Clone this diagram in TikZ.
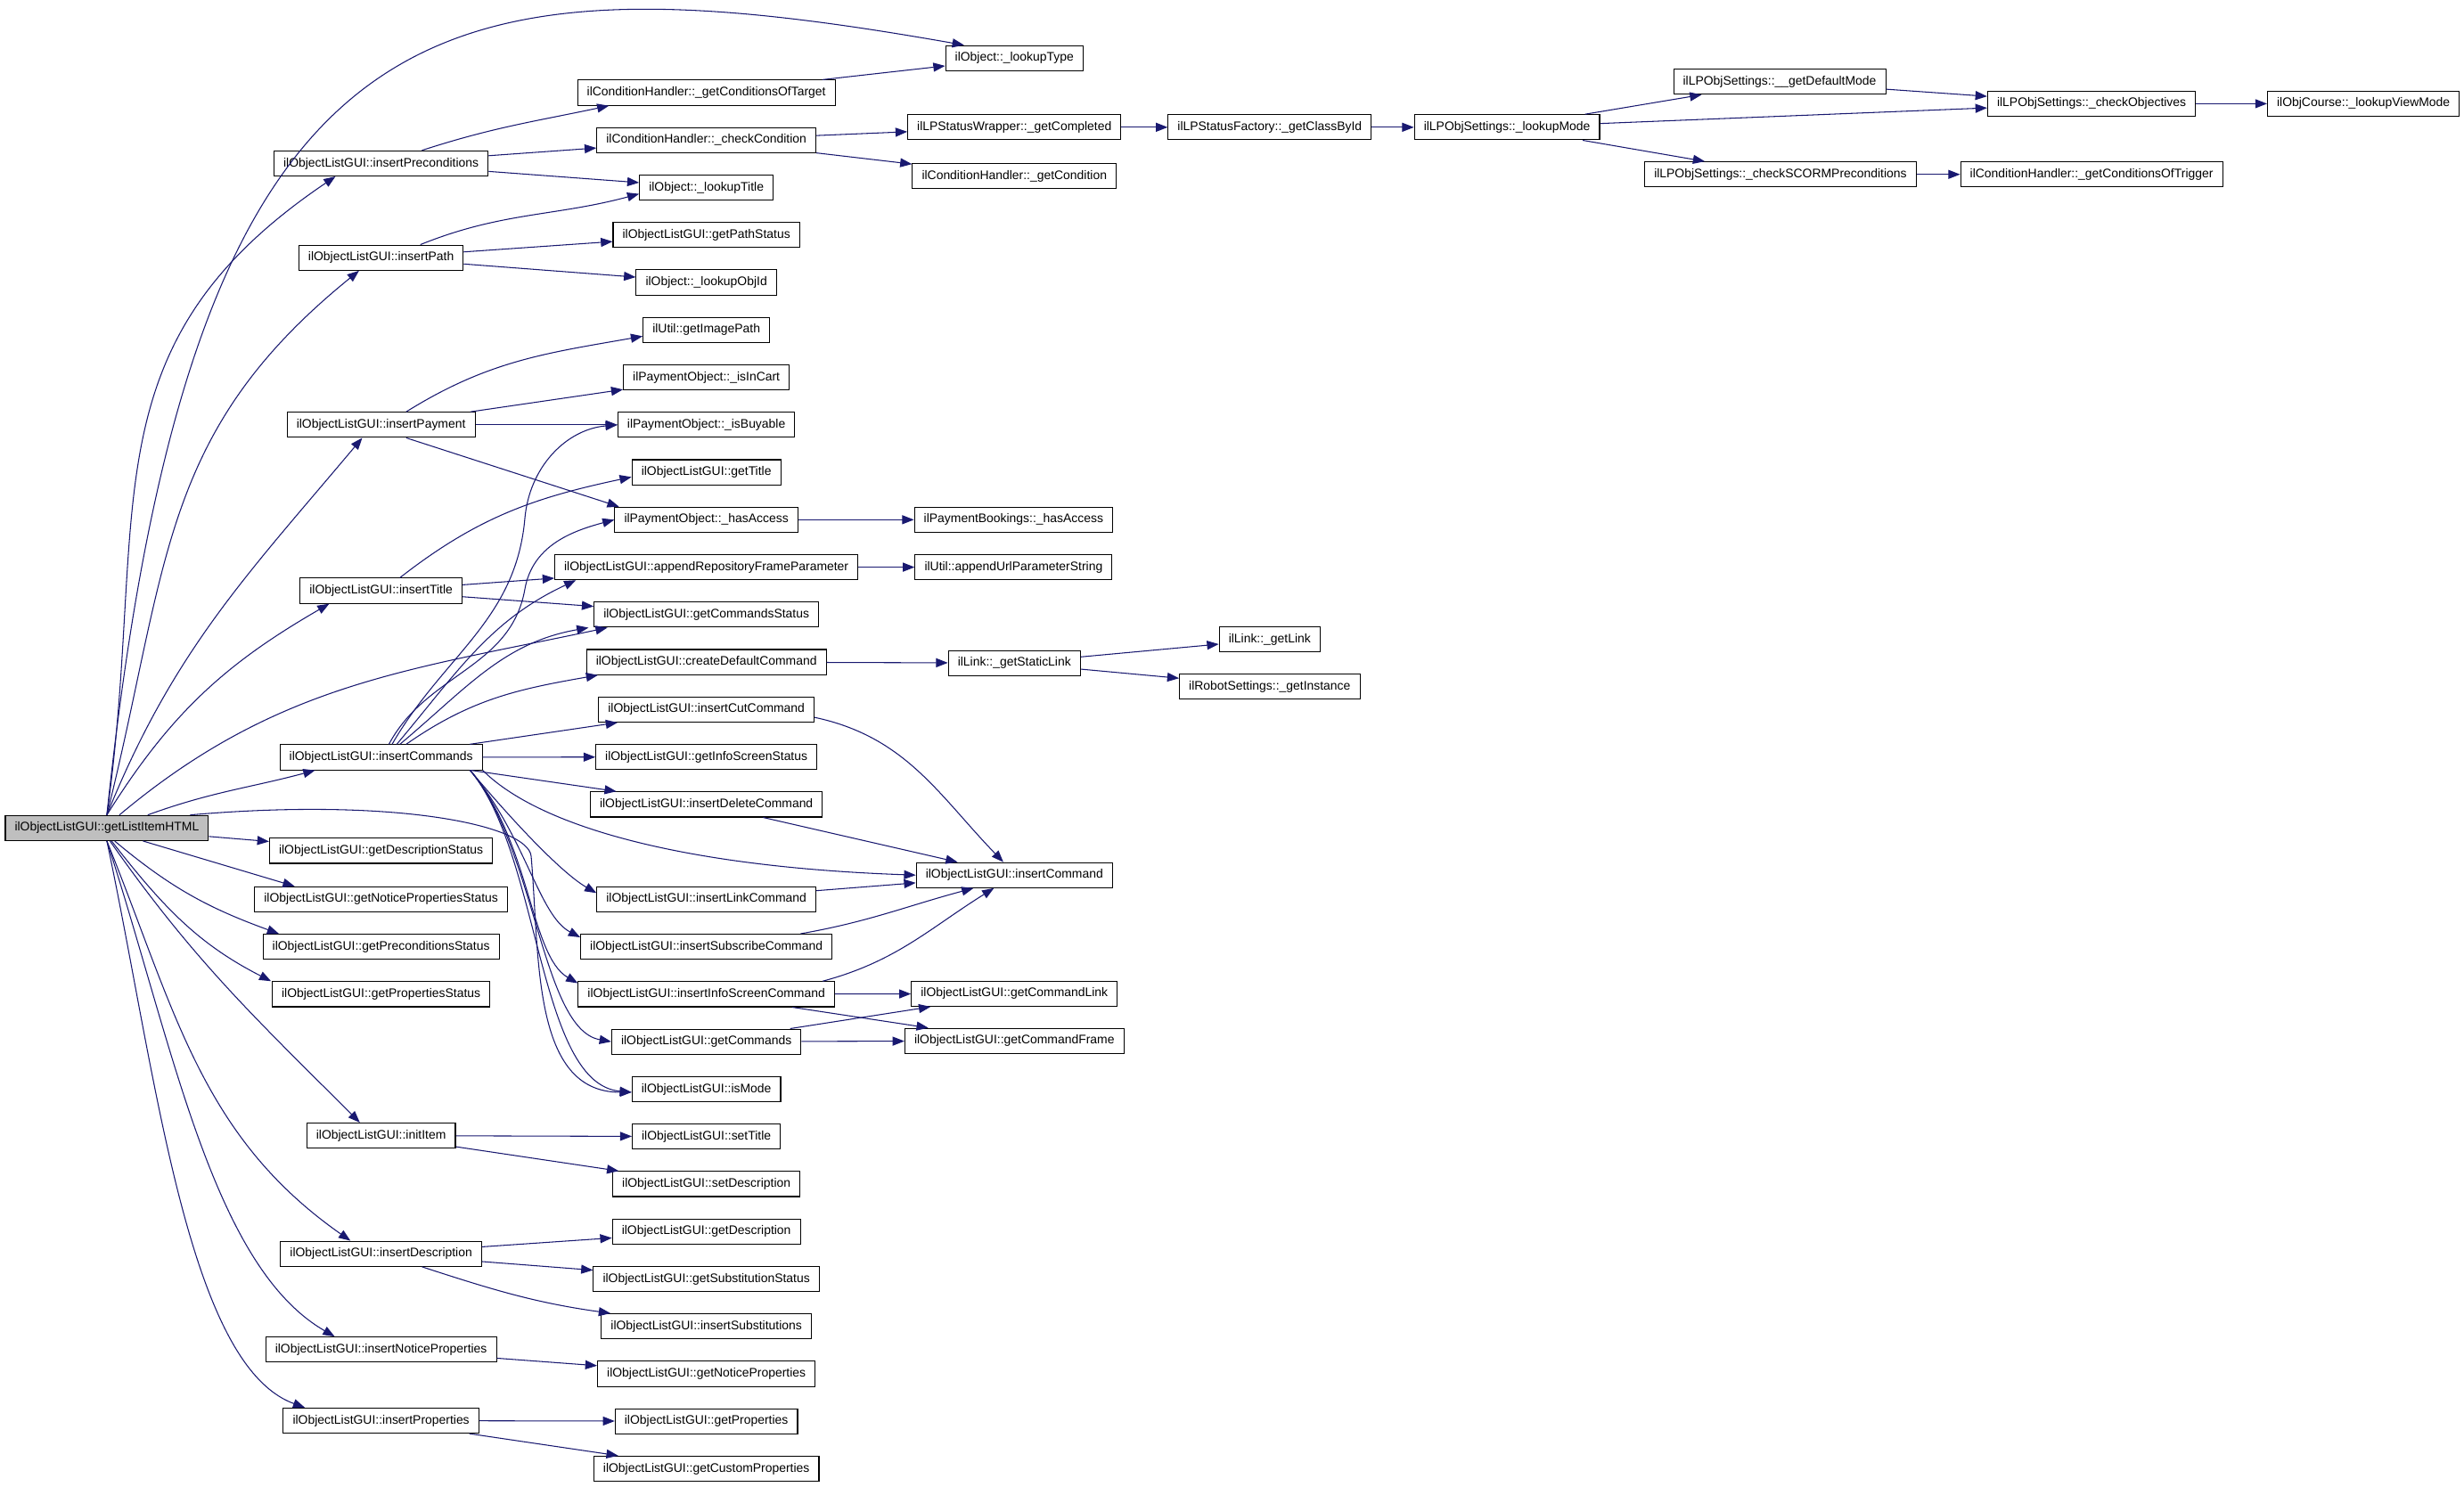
\documentclass[tikz,border=0pt]{standalone}
\usepackage{fontspec}
\setmainfont{Liberation Sans}
\usepackage{tikz}
\usetikzlibrary{arrows.meta}
\definecolor{callblue}{HTML}{191970}
\tikzset{
  >={Triangle[length=7.5pt, width=5.7pt]},
  func/.style={draw, fill=white, line width=0.6pt, inner xsep=6pt, inner ysep=0pt,
    minimum height=16pt, font=\fontsize{7.9}{9.5}\selectfont},
  rootfunc/.style={func, fill=black!25},
  call/.style={draw=callblue, line width=0.6pt},
  every edge/.style={call},
}

\begin{document}
\begin{tikzpicture}[->, x=1pt, y=-1pt]
    \useasboundingbox (0,0) rectangle (1568,946);

    \node[rootfunc] (item)      at (68,527)      {ilObjectListGUI::getListItemHTML};

    % callees of getListItemHTML
    \node[func] (insPre)        at (242.5,104)   {ilObjectListGUI::insertPreconditions};
    \node[func] (insPath)       at (242.5,164)   {ilObjectListGUI::insertPath};
    \node[func] (insPay)        at (242.5,270.4) {ilObjectListGUI::insertPayment};
    \node[func] (insTitle)      at (242.5,376)   {ilObjectListGUI::insertTitle};
    \node[func] (insCmds)       at (242.5,482)   {ilObjectListGUI::insertCommands};
    \node[func] (getDescStat)   at (242.5,541.5) {ilObjectListGUI::getDescriptionStatus};
    \node[func] (getNoticeStat) at (242.5,572.4) {ilObjectListGUI::getNoticePropertiesStatus};
    \node[func] (getPreStat)    at (242.5,602.6) {ilObjectListGUI::getPreconditionsStatus};
    \node[func] (getPropStat)   at (242.5,632.8) {ilObjectListGUI::getPropertiesStatus};
    \node[func] (initItem)      at (242.5,722.8) {ilObjectListGUI::initItem};
    \node[func] (insDesc)       at (242.5,798)   {ilObjectListGUI::insertDescription};
    \node[func] (insNotice)     at (242.5,859)   {ilObjectListGUI::insertNoticeProperties};
    \node[func] (insProps)      at (242.5,904.2) {ilObjectListGUI::insertProperties};

    % second column
    \node[func] (condTarget)    at (449.5,59)    {ilConditionHandler::\_getConditionsOfTarget};
    \node[func] (checkCond)     at (449.5,89.2)  {ilConditionHandler::\_checkCondition};
    \node[func] (lookupTitle)   at (449.5,119.4) {ilObject::\_lookupTitle};
    \node[func] (pathStat)      at (449.5,149.6) {ilObjectListGUI::getPathStatus};
    \node[func] (lookupObjId)   at (449.5,179.8) {ilObject::\_lookupObjId};
    \node[func] (imagePath)     at (449.5,210)   {ilUtil::getImagePath};
    \node[func] (isInCart)      at (449.5,240.2) {ilPaymentObject::\_isInCart};
    \node[func] (isBuyable)     at (449.5,270.4) {ilPaymentObject::\_isBuyable};
    \node[func] (getTitle)      at (449.5,300.6) {ilObjectListGUI::getTitle};
    \node[func] (payAccess)     at (449.5,330.8) {ilPaymentObject::\_hasAccess};
    \node[func] (repFrame)      at (449.5,361)   {ilObjectListGUI::appendRepositoryFrameParameter};
    \node[func] (cmdsStat)      at (449.5,391.2) {ilObjectListGUI::getCommandsStatus};
    \node[func] (defaultCmd)    at (449.5,421.4) {ilObjectListGUI::createDefaultCommand};
    \node[func] (cutCmd)        at (449.5,451.6) {ilObjectListGUI::insertCutCommand};
    \node[func] (infoStat)      at (449.5,481.8) {ilObjectListGUI::getInfoScreenStatus};
    \node[func] (deleteCmd)     at (449.5,512)   {ilObjectListGUI::insertDeleteCommand};
    \node[func] (linkCmd)       at (449.5,572.4) {ilObjectListGUI::insertLinkCommand};
    \node[func] (subscribeCmd)  at (449.5,602.6) {ilObjectListGUI::insertSubscribeCommand};
    \node[func] (infoCmd)       at (449.5,632.8) {ilObjectListGUI::insertInfoScreenCommand};
    \node[func] (getCmds)       at (449.5,663)   {ilObjectListGUI::getCommands};
    \node[func] (isMode)        at (449.5,693.2) {ilObjectListGUI::isMode};
    \node[func] (setTitle)      at (449.5,723.4) {ilObjectListGUI::setTitle};
    \node[func] (setDesc)       at (449.5,753.6) {ilObjectListGUI::setDescription};
    \node[func] (getDesc)       at (449.5,783.8) {ilObjectListGUI::getDescription};
    \node[func] (substStat)     at (449.5,814)   {ilObjectListGUI::getSubstitutionStatus};
    \node[func] (insSubst)      at (449.5,844.2) {ilObjectListGUI::insertSubstitutions};
    \node[func] (getNotice)     at (449.5,874.4) {ilObjectListGUI::getNoticeProperties};
    \node[func] (getProps)      at (449.5,904.6) {ilObjectListGUI::getProperties};
    \node[func] (getCustom)     at (449.5,934.8) {ilObjectListGUI::getCustomProperties};

    % third column and beyond
    \node[func] (lookupType)    at (645.5,37)    {ilObject::\_lookupType};
    \node[func] (completed)     at (645.5,81)    {ilLPStatusWrapper::\_getCompleted};
    \node[func] (getCond)       at (645.5,112)   {ilConditionHandler::\_getCondition};
    \node[func] (bookAccess)    at (645,330.8)   {ilPaymentBookings::\_hasAccess};
    \node[func] (urlParam)      at (645,361)     {ilUtil::appendUrlParameterString};
    \node[func] (staticLink)    at (645.5,422)   {ilLink::\_getStaticLink};
    \node[func] (insCmd)        at (645.5,557)   {ilObjectListGUI::insertCommand};
    \node[func] (cmdLink)       at (645.5,632.5) {ilObjectListGUI::getCommandLink};
    \node[func] (cmdFrame)      at (645.5,662.5) {ilObjectListGUI::getCommandFrame};
    \node[func] (classById)     at (808,81)      {ilLPStatusFactory::\_getClassById};
    \node[func] (getLink)       at (808,407)     {ilLink::\_getLink};
    \node[func] (robotInst)     at (808,437)     {ilRobotSettings::\_getInstance};
    \node[func] (lookupMode)    at (959,81)      {ilLPObjSettings::\_lookupMode};
    \node[func] (defaultMode)   at (1132.5,52)   {ilLPObjSettings::\_\_getDefaultMode};
    \node[func] (scormPre)      at (1133,111)    {ilLPObjSettings::\_checkSCORMPreconditions};
    \node[func] (checkObj)      at (1331,66)     {ilLPObjSettings::\_checkObjectives};
    \node[func] (condTrigger)   at (1331,111)    {ilConditionHandler::\_getConditionsOfTrigger};
    \node[func] (viewMode)      at (1504,66)     {ilObjCourse::\_lookupViewMode};

    \path
      (item.north) edge[out=84, in=170, out distance=520pt, in distance=350pt] ([xshift=-32pt]lookupType.north)
      (item.north) edge[out=82, in=214, looseness=1.15] ([xshift=-29pt]insPre.south)
      (item.north) edge[out=76, in=219, looseness=1.1] ([xshift=-14pt]insPath.south)
      (item.north) edge[out=68, in=230] ([xshift=-12pt]insPay.south)
      (item.north) edge[out=58, in=210] ([xshift=-33pt]insTitle.south)
      ([xshift=8pt]item.north) edge[out=40, in=192] ([xshift=-63pt]cmdsStat.south)
      ([xshift=26pt]item.north) edge[out=20, in=195] ([xshift=-42pt]insCmds.south)
      (item) edge (getDescStat)
      ([xshift=23pt]item.south) edge ([xshift=-55pt]getNoticeStat.north)
      ([xshift=5pt]item.south) edge[out=-40, in=160] ([xshift=-65pt]getPreStat.north)
      ([xshift=3pt]item.south) edge[out=-52, in=153] ([xshift=-70pt]getPropStat.north)
      ([xshift=2pt]item.south) edge[out=-55, in=135] ([xshift=-13.5pt]initItem.north)
      (item.south) edge[out=-68, in=145] ([xshift=-19.5pt]insDesc.north)
      (item.south) edge[out=-72, in=150, out distance=136pt, in distance=90pt] ([xshift=-29.5pt]insNotice.north)
      (item.south) edge[out=-78, in=160, out distance=150pt, in distance=80pt] ([xshift=-48.5pt]insProps.north);

    \path
      ([xshift=26pt]insPre.north) edge[out=18, in=192] ([xshift=-62pt]condTarget.south)
      (insPre) edge (checkCond)
      (insPre) edge (lookupTitle)
      ([xshift=25pt]insPath.north) edge[out=22, in=195] ([yshift=-4pt]lookupTitle.west)
      (insPath) edge (pathStat)
      (insPath) edge (lookupObjId)
      ([xshift=16pt]insPay.north) edge[out=32, in=190] ([yshift=-4pt]imagePath.west)
      (insPay) edge (isInCart)
      (insPay) edge (isBuyable)
      ([xshift=16pt]insPay.south) edge ([xshift=3pt]payAccess.north west)
      ([xshift=12pt]insTitle.north) edge[out=38, in=192] ([yshift=-3pt]getTitle.west)
      (insTitle) edge (repFrame)
      (insTitle) edge (cmdsStat)
      ([xshift=10pt]insCmds.north) edge[out=50, in=205] ([xshift=-83pt]repFrame.south)
      ([xshift=12pt]insCmds.north) edge[out=40, in=190] ([xshift=-75pt]cmdsStat.south)
      ([xshift=16pt]insCmds.north) edge[out=35, in=190] ([xshift=-69pt]defaultCmd.south)
      (insCmds) edge (cutCmd)
      (insCmds) edge (infoStat)
      (insCmds) edge (deleteCmd)
      (insCmds.south east) edge[out=-45, in=178, out distance=50pt, in distance=150pt] (insCmd.west)
      ([xshift=-8pt]insCmds.south east) edge[out=-50, in=150, out distance=45pt, in distance=25pt] ([yshift=4pt]linkCmd.west)
      ([xshift=-8pt]insCmds.south east) edge[out=-50, in=152, out distance=55pt, in distance=30pt] ([yshift=6pt]subscribeCmd.west)
      ([xshift=-8pt]insCmds.south east) edge[out=-50, in=150, out distance=60pt, in distance=35pt] ([yshift=7pt]infoCmd.west)
      ([xshift=-8pt]insCmds.south east) edge[out=-50, in=170, out distance=65pt, in distance=45pt] (getCmds.west)
      ([xshift=-8pt]insCmds.south east) edge[out=-50, in=175, out distance=70pt, in distance=60pt] ([yshift=-2pt]isMode.west);

    \draw[call] ([xshift=7pt]insCmds.north) to[out=60, in=-95] (334,330) to[out=85, in=185] (isBuyable.west);
    \draw[call] ([xshift=5pt]insCmds.north) to[out=62, in=-100] (334,375) to[out=80, in=195] (payAccess.west);
    \draw[call] ([xshift=53pt]item.north) to[out=5, in=95, out distance=130pt, in distance=20pt] (338,545)
      to[out=-85, in=180] ([yshift=-2pt]isMode.west);

    \path
      (condTarget) edge (lookupType)
      (checkCond) edge (completed)
      (checkCond) edge (getCond)
      (payAccess) edge (bookAccess)
      (repFrame) edge (urlParam)
      (defaultCmd) edge (staticLink)
      ([yshift=-5pt]cutCmd.east) edge[out=-12, in=134] ([xshift=-7pt]insCmd.north)
      (deleteCmd) edge (insCmd)
      (linkCmd) edge (insCmd)
      ([xshift=60pt]subscribeCmd.north) edge[out=10, in=195] ([xshift=-26pt]insCmd.south)
      ([xshift=74pt]infoCmd.north) edge[out=15, in=212] ([xshift=-13pt]insCmd.south)
      (infoCmd) edge (cmdLink)
      (infoCmd) edge (cmdFrame)
      (getCmds) edge (cmdLink)
      (getCmds) edge (cmdFrame)
      (initItem) edge (setTitle)
      (initItem) edge (setDesc)
      (insDesc) edge (getDesc)
      (insDesc) edge (substStat)
      ([xshift=26pt]insDesc.south) edge[out=-18, in=172] ([xshift=-61pt]insSubst.north)
      (insNotice) edge (getNotice)
      (insProps) edge (getProps)
      (insProps) edge (getCustom)
      (completed) edge (classById)
      (classById) edge (lookupMode)
      (lookupMode) edge (defaultMode)
      (lookupMode) edge (checkObj)
      (lookupMode) edge (scormPre)
      (defaultMode) edge (checkObj)
      (checkObj) edge (viewMode)
      (scormPre) edge (condTrigger)
      (staticLink) edge (getLink)
      (staticLink) edge (robotInst);
\end{tikzpicture}
\end{document}
